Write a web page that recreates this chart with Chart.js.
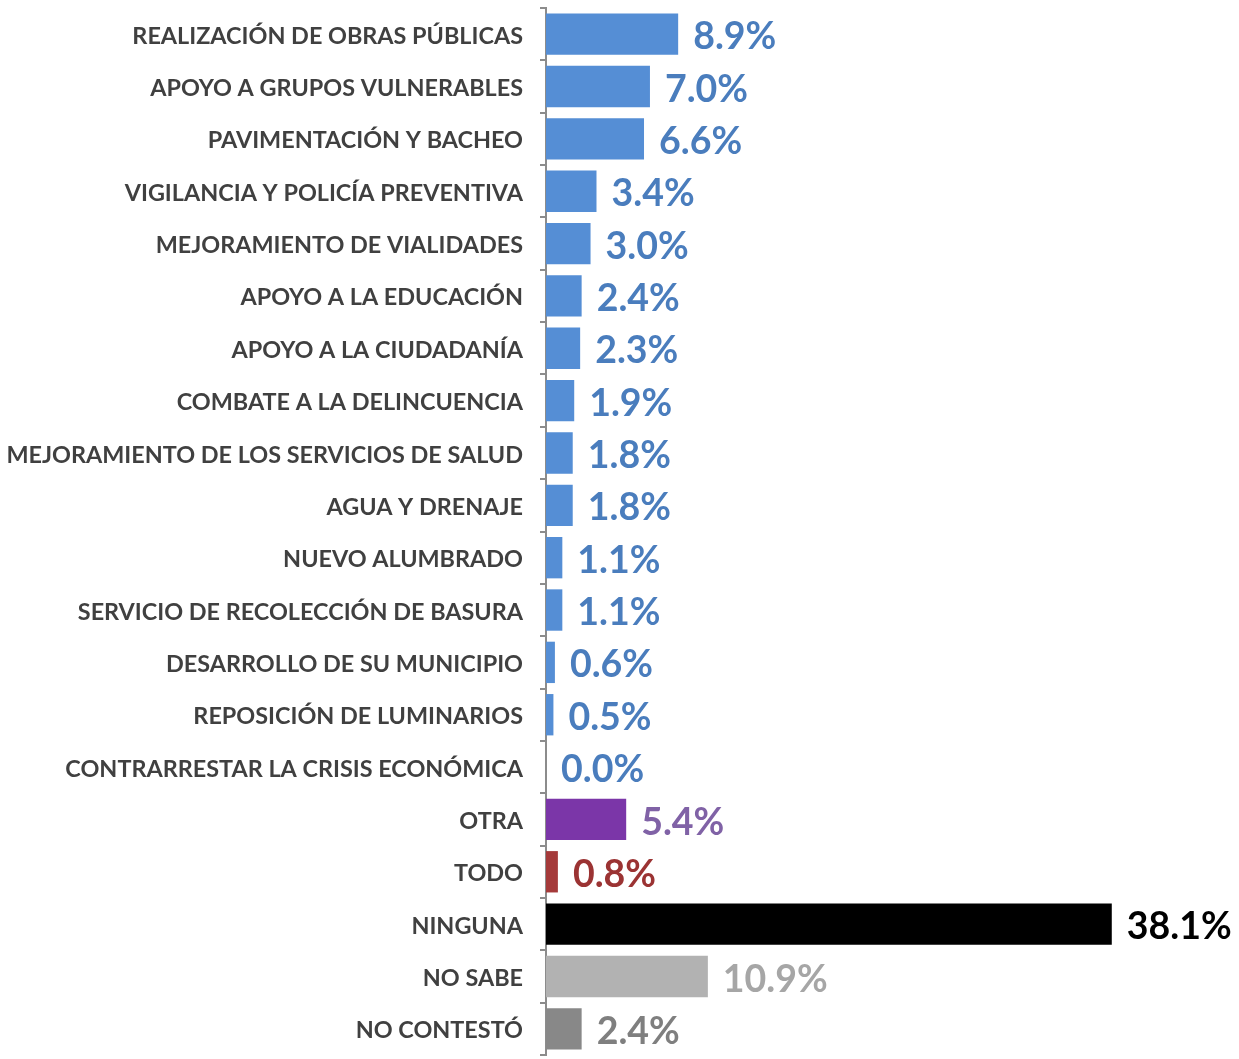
<!DOCTYPE html>
<html>
<head>
<meta charset="utf-8">
<script src="https://cdn.jsdelivr.net/npm/chart.js@4"></script>
<style>
  html, body { margin: 0; padding: 0; background: #fff; }
  #wrap { width: 1239px; height: 1059px; }
</style>
</head>
<body>
<div id="wrap"><canvas id="myChart" width="1239" height="1059"></canvas></div>
<script>
var categories = ['REALIZACIÓN DE OBRAS PÚBLICAS','APOYO A GRUPOS VULNERABLES','PAVIMENTACIÓN Y BACHEO',
    'VIGILANCIA Y POLICÍA PREVENTIVA','MEJORAMIENTO DE VIALIDADES','APOYO A LA EDUCACIÓN',
    'APOYO A LA CIUDADANÍA','COMBATE A LA DELINCUENCIA','MEJORAMIENTO DE LOS SERVICIOS DE SALUD',
    'AGUA Y DRENAJE','NUEVO ALUMBRADO','SERVICIO DE RECOLECCIÓN DE BASURA','DESARROLLO DE SU MUNICIPIO',
    'REPOSICIÓN DE LUMINARIOS','CONTRARRESTAR LA CRISIS ECONÓMICA','OTRA','TODO','NINGUNA','NO SABE','NO CONTESTÓ'];
var values = [8.9,7.0,6.6,3.4,3.0,2.4,2.3,1.9,1.8,1.8,1.1,1.1,0.6,0.5,0.0,5.4,0.8,38.1,10.9,2.4];

var blue = '#558ED5', blueText = '#4A7DBD';
var barColors = [];
var textColors = [];
for (var i = 0; i < 15; i++) { barColors.push(blue); textColors.push(blueText); }
barColors.push('#7B36A8', '#A53A3A', '#000000', '#B2B2B2', '#888888');
textColors.push('#8062A6', '#9B3333', '#000000', '#A6A6A6', '#7F7F7F');

var valueLabels = {
    id: 'valueLabels',
    afterDatasetsDraw: function(chart) {
        var c = chart.ctx;
        var meta = chart.getDatasetMeta(0);
        c.save();
        c.font = 'bold 37.5px Lato';
        c.textBaseline = 'middle';
        c.textAlign = 'left';
        meta.data.forEach(function(bar, i) {
            c.fillStyle = textColors[i];
            c.fillText(values[i].toFixed(1) + '%', bar.x + 15, bar.y + 3);
        });
        c.restore();
    }
};

var ctx = document.getElementById('myChart').getContext('2d');
var chart = new Chart(ctx, {
    type: 'bar',
    data: {
        labels: categories,
        datasets: [{
            data: values,
            backgroundColor: barColors,
            borderWidth: 0,
            categoryPercentage: 1,
            barPercentage: 0.79
        }]
    },
    options: {
        indexAxis: 'y',
        responsive: false,
        animation: false,
        layout: { padding: { top: 8, bottom: 4, left: 0, right: 99 } },
        plugins: { legend: { display: false }, tooltip: { enabled: false } },
        scales: {
            x: { display: false, min: 0, max: 40 },
            y: {
                afterFit: function(scale) {
                    scale.width = 546;
                    scale.paddingTop = 0;
                    scale.paddingBottom = 0;
                },
                border: { display: true, color: '#8C8C8C', width: 2 },
                grid: { offset: true, drawOnChartArea: false, tickLength: 6, color: '#8C8C8C', lineWidth: 2 },
                ticks: { padding: 17, labelOffset: 2, color: '#404040', font: { family: 'Lato', weight: 'bold', size: 23.4 } }
            }
        }
    },
    plugins: [valueLabels]
});
</script>
</body>
</html>
